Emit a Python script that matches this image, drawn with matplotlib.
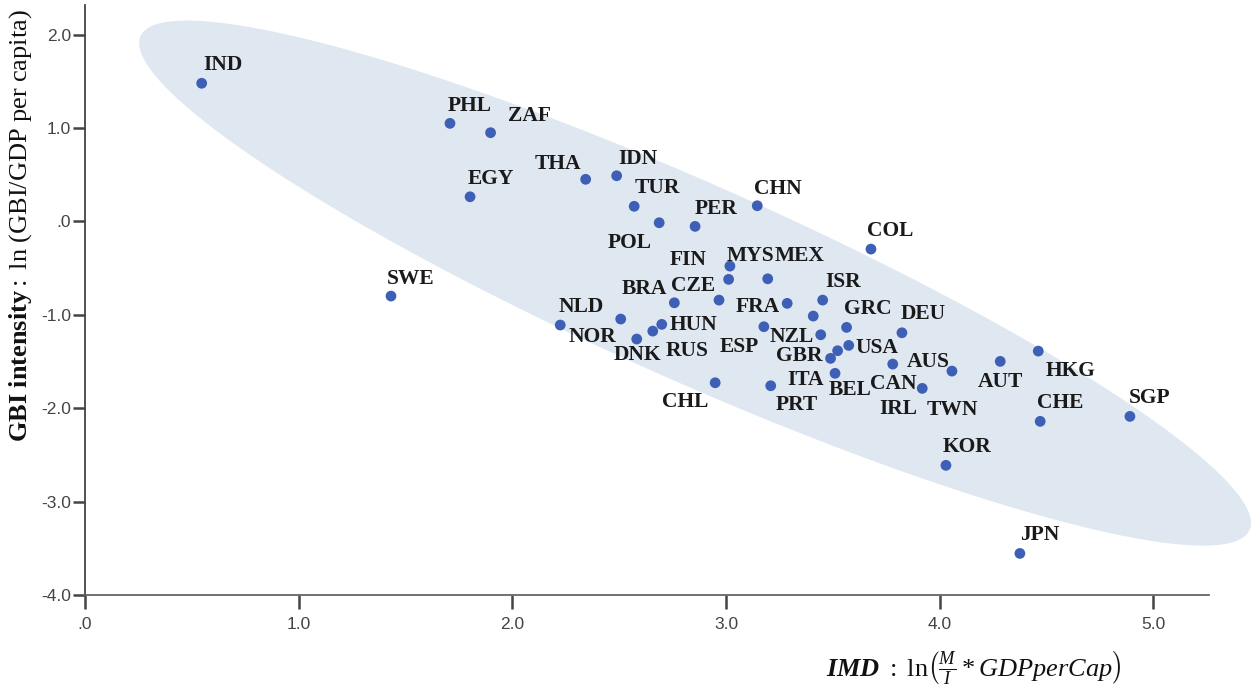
import numpy as np
import matplotlib
matplotlib.use("Agg")
import matplotlib.pyplot as plt
from matplotlib.patches import Polygon

# ---- data -------------------------------------------------------------
countries = ["IND", "PHL", "ZAF", "EGY", "THA", "IDN", "TUR", "POL", "PER", "CHN",
             "COL", "SWE", "NLD", "NOR", "DNK", "RUS", "HUN", "BRA", "CZE", "MYS",
             "FIN", "MEX", "FRA", "ISR", "IRL", "ESP", "NZL", "GRC", "USA", "GBR",
             "ITA", "BEL", "CAN", "AUS", "TWN", "CHL", "PRT", "HKG", "AUT", "CHE",
             "SGP", "KOR", "JPN", "DEU"]

imd = [0.546, 1.708, 1.898, 1.802, 2.343, 2.488, 2.570, 2.687, 2.855, 3.146,
       3.678, 1.432, 2.224, 2.507, 2.582, 2.657, 2.699, 2.758, 2.967, 3.018,
       3.012, 3.195, 3.286, 3.452, 3.408, 3.177, 3.443, 3.564, 3.574, 3.522,
       3.489, 3.510, 3.780, 4.057, 3.918, 2.949, 3.209, 4.461, 4.283, 4.470,
       4.890, 4.029, 4.375, 3.823]

gbi_intensity = [1.478, 1.049, 0.949, 0.263, 0.450, 0.488, 0.161, -0.015, -0.054, 0.167,
                 -0.297, -0.800, -1.110, -1.046, -1.260, -1.175, -1.103, -0.872, -0.843, -0.479,
                 -0.621, -0.615, -0.878, -0.843, -1.014, -1.128, -1.214, -1.135, -1.328, -1.385,
                 -1.467, -1.627, -1.528, -1.603, -1.788, -1.728, -1.760, -1.389, -1.499, -2.141,
                 -2.088, -2.612, -3.555, -1.193]

x_ticks = [0, 1, 2, 3, 4, 5]
y_ticks = [-4, -3, -2, -1, 0, 1, 2]

# label placement around each marker (pixels: right, up from the point to the text centre)
label_offsets = {
    "IND": (21, 20), "PHL": (20, 19), "ZAF": (39, 19), "EGY": (21, 20), "THA": (-28, 17),
    "IDN": (21, 19), "TUR": (23, 20), "POL": (-29, -18), "PER": (21, 19), "CHN": (21, 19),
    "COL": (19, 20), "SWE": (20, 19), "NLD": (21, 20), "NOR": (-28, -16), "DNK": (1, -14),
    "RUS": (34, -18), "HUN": (32, 1), "BRA": (-30, 16), "CZE": (-26, 16), "MYS": (21, 12),
    "FIN": (-40, 21), "MEX": (32, 25), "FRA": (-29, -2), "ISR": (20, 20), "IRL": (85, -91),
    "ESP": (-25, -18), "NZL": (-29, 0), "GRC": (21, 20), "USA": (28, -1), "GBR": (-38, -3),
    "ITA": (-25, -20), "BEL": (15, -15), "CAN": (1, -18), "AUS": (-24, 11), "TWN": (30, -20),
    "CHL": (-30, -17), "PRT": (26, -17), "HKG": (32, -18), "AUT": (0, -19), "CHE": (20, 20),
    "SGP": (20, 20), "KOR": (21, 20), "JPN": (20, 20), "DEU": (21, 21),
}

# ---- style ------------------------------------------------------------
plt.rcParams["mathtext.fontset"] = "custom"
plt.rcParams["mathtext.rm"] = "Liberation Serif"
plt.rcParams["mathtext.it"] = "Liberation Serif:italic"
plt.rcParams["mathtext.bf"] = "Liberation Serif:bold"
plt.rcParams["mathtext.sf"] = "Liberation Serif:bold:italic"

W, H = 1258, 691
fig = plt.figure(figsize=(W / 100, H / 100), dpi=100)
ax = fig.add_axes([85 / W, (H - 595) / H, (1209 - 85) / W, (595 - 5) / H])
ax.set_xlim(0, 5.26)
ax.set_ylim(-4, 2.316)

dot_color = "#3e5fb6"
fill_color = "#dfe7f1"

# concentration ellipse behind the points
centre = np.array([2.855, -0.661])
major = np.array([2.595, -2.643])
minor = np.array([0.186, 0.955])
t = np.linspace(0, 2 * np.pi, 400)
ring = centre + np.outer(np.cos(t), major) + np.outer(np.sin(t), minor)
ax.add_patch(Polygon(ring, closed=True, facecolor=fill_color, edgecolor="none",
                     zorder=0, clip_on=False))

ax.scatter(imd, gbi_intensity, s=60, color=dot_color, edgecolors="none", zorder=3)

for name, xv, yv in zip(countries, imd, gbi_intensity):
    dx, dy = label_offsets[name]
    ax.annotate(name, (xv, yv), xytext=(dx, dy - 7), textcoords="offset pixels",
                ha="center", va="baseline", fontsize=15.5, fontweight="bold",
                family=["Liberation Serif", "DejaVu Serif"], color="#1a1a1a", zorder=4)

# axes frame
for side in ("top", "right"):
    ax.spines[side].set_visible(False)
ax.spines["left"].set_color("#444444")
ax.spines["bottom"].set_color("#666666")
ax.spines["left"].set_linewidth(1.3)
ax.spines["bottom"].set_linewidth(1.3)


def fmt(v):
    s = f"{v:.1f}"
    return s.replace("0.0", ".0") if abs(v) < 1e-9 else s


tick_font = dict(family=["Liberation Sans Narrow", "Liberation Sans", "DejaVu Sans"],
                 size=12.5, color="#444444")
ax.set_xticks(x_ticks)
ax.set_xticklabels([fmt(v) for v in x_ticks], **tick_font)
ax.set_yticks(y_ticks)
ax.set_yticklabels([fmt(v) for v in y_ticks], **tick_font)
ax.tick_params(axis="x", direction="out", length=10, width=1.8, color="#444444", pad=6)
ax.tick_params(axis="y", direction="out", length=9, width=1.8, color="#444444", pad=1)

ax.set_ylabel(r"$\mathbf{GBI\ intensity}\mathrm{:\ ln\ (GBI/GDP\ per\ capita)}$",
              fontsize=19, color="#111111")
ax.yaxis.set_label_coords(-0.045, 0.626)

fig.text(974 / W, 1 - 668 / H,
         r"$\mathsf{IMD}\ \mathrm{:\ ln}\left(\frac{\mathit{M}}{\mathit{I}} * \mathit{GDPperCap}\right)$",
         ha="center", va="center", fontsize=19, color="#111111")

fig.savefig("out.png", dpi=100)
